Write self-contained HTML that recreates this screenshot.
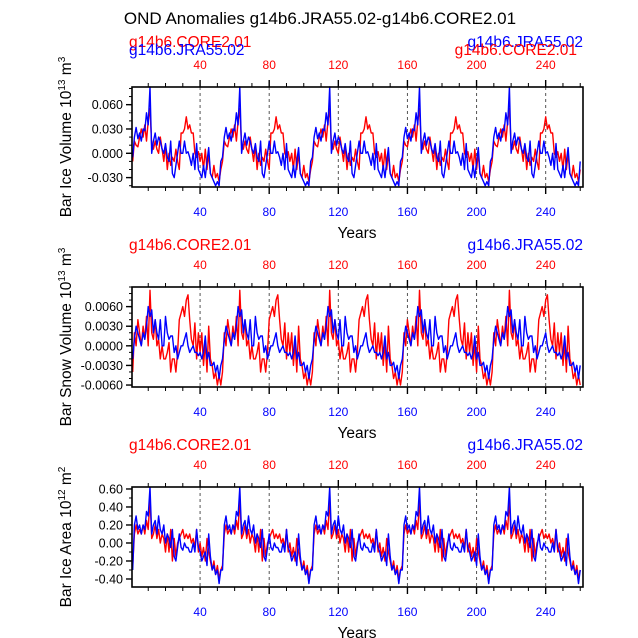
<!DOCTYPE html>
<html><head><meta charset="utf-8"><style>
body{margin:0;background:#fff}
svg{display:block;font-family:"Liberation Sans",Arial,sans-serif}
</style></head><body>
<svg id="c" width="638" height="638" viewBox="0 0 638 638">
<text x="320" y="24" text-anchor="middle" font-size="17">OND Anomalies g14b6.JRA55.02-g14b6.CORE2.01</text>
</svg>
<script>
// one 52-year forcing cycle per series (repeats 5x over 260 years)
const volBlueCycle=[-0.005,0.02,0.032,0.018,0.025,0.015,0.03,0.028,0.05,0.035,0.082,0.0,0.015,0.025,0.01,0.02,0.015,0.005,0.0,0.012,-0.005,-0.01,0.015,-0.025,-0.03,-0.015,0.0,0.015,0.0,0.0,0.015,0.0,0.002,-0.005,-0.015,0.0,-0.02,0.012,-0.02,-0.025,-0.03,-0.015,-0.03,-0.01,0.007,-0.025,-0.03,-0.035,-0.04,-0.035,-0.04,-0.01];
const volRedCycle=[-0.01,0.015,0.01,0.008,0.02,0.03,0.02,0.035,0.015,0.04,0.055,0.01,0.005,0.015,0.005,0.0,0.02,0.005,-0.01,0.01,-0.02,0.0,-0.015,-0.005,-0.01,0.005,-0.01,-0.02,0.025,0.025,0.03,0.045,0.03,0.035,0.025,0.025,0.0,-0.005,0.002,-0.01,0.0,-0.02,0.005,-0.02,0.0,-0.025,-0.03,-0.015,-0.03,-0.025,-0.035,-0.02];
const snowBlueCycle=[-0.002,0.001,0.003,0.002,0.001,0.0,0.002,0.001,0.003,0.006,0.0045,0.0055,0.002,0.004,0.002,0.001,0.004,0.0,0.0,0.0045,0.002,0.001,0.0015,0.0015,-0.001,0.0,-0.002,-0.001,0.0,0.0,0.001,0.002,0.0,-0.001,-0.0005,0.0,-0.001,-0.001,-0.0015,-0.001,-0.002,-0.001,0.0015,-0.002,-0.001,-0.003,-0.003,-0.0025,-0.004,-0.003,-0.005,-0.003];
const snowRedCycle=[-0.004,0.002,0.0,0.004,0.002,0.0,0.003,0.001,0.0045,0.0,0.0085,0.002,0.001,0.004,0.0,0.001,-0.002,0.0,-0.002,-0.002,-0.001,0.0005,-0.004,-0.002,-0.002,-0.004,-0.001,0.004,0.005,0.006,0.0045,0.007,0.0078,0.004,0.001,0.0,0.0035,-0.002,0.002,-0.001,0.002,-0.003,0.0005,-0.004,0.003,-0.002,-0.003,-0.005,-0.004,-0.006,-0.0045,-0.006];
const areaBlueCycle=[-0.3,0.2,0.3,0.15,0.2,0.1,0.2,0.15,0.35,0.3,0.62,0.1,0.2,0.25,0.1,0.3,0.15,0.1,0.2,0.0,0.1,0.05,-0.05,0.15,-0.15,-0.2,-0.05,0.1,-0.05,-0.08,0.0,-0.05,-0.05,-0.1,-0.1,0.0,-0.1,0.15,-0.05,-0.1,-0.2,-0.15,-0.1,-0.25,0.1,-0.15,-0.3,-0.25,-0.35,-0.3,-0.45,-0.3];
const areaRedCycle=[-0.25,0.1,0.2,0.1,0.15,0.1,0.2,0.1,0.25,0.15,0.5,0.05,0.1,0.2,0.05,0.15,0.0,0.1,0.05,-0.1,0.1,-0.1,0.15,-0.2,0.05,-0.15,0.0,0.05,0.1,0.15,0.05,0.1,0.05,0.1,0.0,0.05,-0.05,0.15,-0.1,0.0,-0.15,-0.05,-0.2,0.05,-0.1,-0.2,-0.3,-0.2,-0.35,-0.25,-0.4,-0.3];
const xTicks=[40,80,120,160,200,240];
const volTicks=[0.06,0.03,0,-0.03];const volLabels=["0.060","0.030","0.000","-0.030"];
const snowTicks=[0.006,0.003,0,-0.003,-0.006];const snowLabels=["0.0060","0.0030","0.0000","-0.0030","-0.0060"];
const areaTicks=[0.6,0.4,0.2,0,-0.2,-0.4];const areaLabels=["0.60","0.40","0.20","0.00","-0.20","-0.40"];
const CYCLES=5;

const NS="http://www.w3.org/2000/svg";
const svg=document.getElementById('c');
function el(t,a,p){const e=document.createElementNS(NS,t);for(const k in a)e.setAttribute(k,a[k]);(p||svg).appendChild(e);return e;}
function rep(c){let o=[];for(let i=0;i<CYCLES;i++)o=o.concat(c);return o;}
const X0=132,X1=583,XMIN=0.6,XMAX=261.6;
const sx=v=>X0+(v-XMIN)/(XMAX-XMIN)*(X1-X0);

function panel(name,top,bot,ymin,ymax,ticks,labels,minorStep,blue,red,title,unit,sup2,twoLineTitle){
  const g=el('g',{});
  
  
  const sy=v=>bot-(v-ymin)/(ymax-ymin)*(bot-top);
  xTicks.forEach(t=>{const l=el('line',{x1:sx(t),x2:sx(t),y1:top,y2:bot,stroke:'#555','stroke-width':1,'stroke-dasharray':'3,3'},g);
    });
  [[red,'#ff0000','red-series'],[blue,'#0000ff','blue-series']].forEach(([d,c,n])=>{
    const pts=d.map((v,i)=>sx(i+1).toFixed(1)+','+sy(Math.max(ymin,Math.min(ymax,v))).toFixed(1)).join(' ');
    const p=el('polyline',{points:pts,fill:'none',stroke:c,'stroke-width':1.4,'stroke-linejoin':'round'},g);
    
  });
  const fr=el('rect',{x:X0,y:top,width:X1-X0,height:bot-top,fill:'none',stroke:'#000','stroke-width':1.6},g);
  
  for(let t=10;t<=260;t+=10){const maj=t%40===0;const L=maj?7:4;
    el('line',{x1:sx(t),x2:sx(t),y1:top-L,y2:top,stroke:'#000','stroke-width':maj?1.4:1},g);
    el('line',{x1:sx(t),x2:sx(t),y1:bot,y2:bot+L,stroke:'#000','stroke-width':maj?1.4:1},g);}
  xTicks.forEach(t=>{
    const a=el('text',{x:sx(t),y:top-18,'text-anchor':'middle','font-size':12,fill:'#ff0000'},g);a.textContent=t;
    
    const b=el('text',{x:sx(t),y:bot+29,'text-anchor':'middle','font-size':12,fill:'#0000ff'},g);b.textContent=t;
    
  });
  for(let v=Math.ceil(ymin/minorStep)*minorStep;v<=ymax+1e-12;v+=minorStep){
    el('line',{x1:X0-3,x2:X0,y1:sy(v),y2:sy(v),stroke:'#000','stroke-width':1},g);}
  ticks.forEach((t,i)=>{el('line',{x1:X0-6,x2:X0,y1:sy(t),y2:sy(t),stroke:'#000','stroke-width':1.4},g);
    const tx=el('text',{x:X0-9,y:sy(t)+4.5,'text-anchor':'end','font-size':12.5},g);tx.textContent=labels[i];
    });
  const xt=el('text',{x:357,y:bot+51,'text-anchor':'middle','font-size':15.5},g);xt.textContent='Years';
  
  const yt=el('text',{transform:`translate(71,${(top+bot)/2}) rotate(-90)`,'text-anchor':'middle','font-size':15.5},g);
  yt.innerHTML=title+' 10<tspan dy="-6" font-size="10">'+unit+'</tspan><tspan dy="6"> m</tspan><tspan dy="-6" font-size="10">'+sup2+'</tspan>';
  
  const mk=(x,y,anch,c,s,n)=>{const t=el('text',{x:x,y:y,'text-anchor':anch,'font-size':15.5,fill:c},g);t.textContent=s;
    };
  if(twoLineTitle){
    mk(X0-3,top-40,'start','#ff0000','g14b6.CORE2.01','left-core-label');
    mk(X0-3,top-32,'start','#0000ff','g14b6.JRA55.02','left-jra-label');
    mk(X1,top-40,'end','#0000ff','g14b6.JRA55.02','right-jra-label');
    mk(X1-6,top-32,'end','#ff0000','g14b6.CORE2.01','right-core-label');
  } else {
    mk(X0-3,top-37,'start','#ff0000','g14b6.CORE2.01','left-core-label');
    mk(X1,top-37,'end','#0000ff','g14b6.JRA55.02','right-jra-label');
  }
}
panel('ice-volume',87,187,-0.0416,0.0818,volTicks,volLabels,0.01,rep(volBlueCycle),rep(volRedCycle),'Bar Ice Volume','13','3',true);
panel('snow-volume',287,387,-0.0063,0.009,snowTicks,snowLabels,0.001,rep(snowBlueCycle),rep(snowRedCycle),'Bar Snow Volume','13','3',false);
panel('ice-area',487,587,-0.489,0.622,areaTicks,areaLabels,0.1,rep(areaBlueCycle),rep(areaRedCycle),'Bar Ice Area','12','2',false);
</script>
</body></html>
